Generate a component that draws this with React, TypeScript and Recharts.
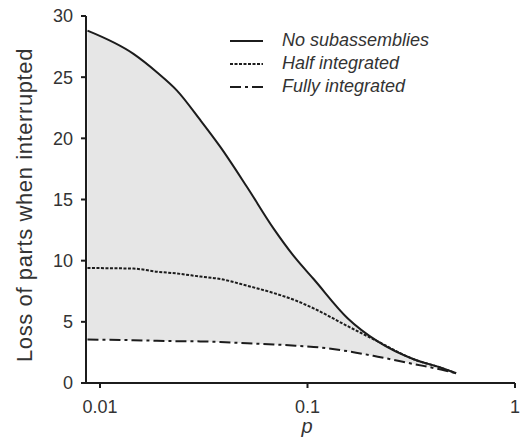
import React from "react";
import {
  Area,
  ComposedChart,
  Line,
  XAxis,
  YAxis,
} from "recharts";

const P_VALUES = [0.0087, 0.0145, 0.0188, 0.0235, 0.0304, 0.038, 0.0512, 0.0688, 0.0875, 0.107, 0.156, 0.218, 0.325, 0.44, 0.52];
const NO_SUB = [28.8, 26.9, 25.4, 23.9, 21.5, 19.3, 16.0, 12.6, 10.2, 8.5, 5.3, 3.4, 1.94, 1.25, 0.8];
const HALF = [9.4, 9.35, 9.1, 8.95, 8.7, 8.5, 7.95, 7.35, 6.75, 6.1, 4.65, 3.4, 1.94, 1.25, 0.8];
const FULL = [3.55, 3.5, 3.45, 3.42, 3.4, 3.35, 3.25, 3.15, 3.05, 2.95, 2.6, 2.15, 1.55, 1.1, 0.8];

const X_TICKS = [0.01, 0.1, 1];
const Y_TICKS = [0, 5, 10, 15, 20, 25, 30];

const SERIES = [
  { key: "none", label: "No subassemblies", dash: undefined as string | undefined },
  { key: "half", label: "Half integrated", dash: "3 1.5" },
  { key: "full", label: "Fully integrated", dash: "11 4 3 4" },
];

const data = P_VALUES.map((p, i) => ({
  p,
  none: NO_SUB[i],
  half: HALF[i],
  full: FULL[i],
  band: [FULL[i], NO_SUB[i]],
}));

const FONT = "'Liberation Sans', Arial, sans-serif";
const INK = "#1c1c1c";
const TEXT = "#333";

// legend drawn as an overlay so it doesn't eat into the plot area
function LegendBox() {
  return (
    <div
      style={{
        position: "absolute",
        left: 228,
        top: 29,
        fontFamily: FONT,
        fontSize: 18,
        fontStyle: "italic",
        color: TEXT,
      }}
    >
      {SERIES.map((s) => (
        <div key={s.key} style={{ display: "flex", alignItems: "center", height: 23 }}>
          <svg width={54} height={10}>
            <line x1={2} x2={35} y1={5} y2={5} stroke={INK} strokeWidth={2} strokeDasharray={s.dash} />
          </svg>
          <span style={{ lineHeight: "23px", whiteSpace: "nowrap" }}>{s.label}</span>
        </div>
      ))}
    </div>
  );
}

export default function App() {
  return (
    <div style={{ position: "absolute", left: 0, top: 0, width: 523, height: 442, background: "#fff" }}>
      <ComposedChart width={523} height={442} data={data} margin={{ top: 16, right: 8, bottom: 0, left: 0 }}>
        <XAxis
          dataKey="p"
          type="number"
          scale="log"
          domain={[0.00856, 1]}
          allowDataOverflow
          ticks={X_TICKS}
          tickFormatter={(v: number) => String(v)}
          height={59}
          stroke={INK}
          strokeWidth={2}
          tickSize={5}
          tickMargin={12}
          tick={{ fill: TEXT, fontSize: 18, fontFamily: FONT }}
          label={{
            content: () => (
              <text x={307} y={433} textAnchor="middle" fontFamily={FONT} fontSize={20} fontStyle="italic" fill={TEXT}>
                p
              </text>
            ),
          }}
        />
        <YAxis
          type="number"
          domain={[0, 30]}
          ticks={Y_TICKS}
          width={86}
          stroke={INK}
          strokeWidth={2}
          tickSize={5}
          tickMargin={8}
          tick={{ fill: TEXT, fontSize: 18, fontFamily: FONT }}
          label={{
            content: () => (
              <text
                x={24}
                y={205}
                transform="rotate(-90 24 205)"
                textAnchor="middle"
                dominantBaseline="central"
                fontFamily={FONT}
                fontSize={22}
                letterSpacing={0.6}
                fill={TEXT}
              >
                Loss of parts when interrupted
              </text>
            ),
          }}
        />
        <Area
          dataKey="band"
          type="monotone"
          fill="#e6e6e6"
          fillOpacity={1}
          stroke="none"
          isAnimationActive={false}
          legendType="none"
        />
        <Line dataKey="full" type="monotone" stroke={INK} strokeWidth={2} strokeDasharray="11 4 3 4" dot={false} isAnimationActive={false} />
        <Line dataKey="half" type="monotone" stroke={INK} strokeWidth={2} strokeDasharray="3 1.5" dot={false} isAnimationActive={false} />
        <Line dataKey="none" type="monotone" stroke={INK} strokeWidth={2} dot={false} isAnimationActive={false} />
      </ComposedChart>
      <LegendBox />
    </div>
  );
}
